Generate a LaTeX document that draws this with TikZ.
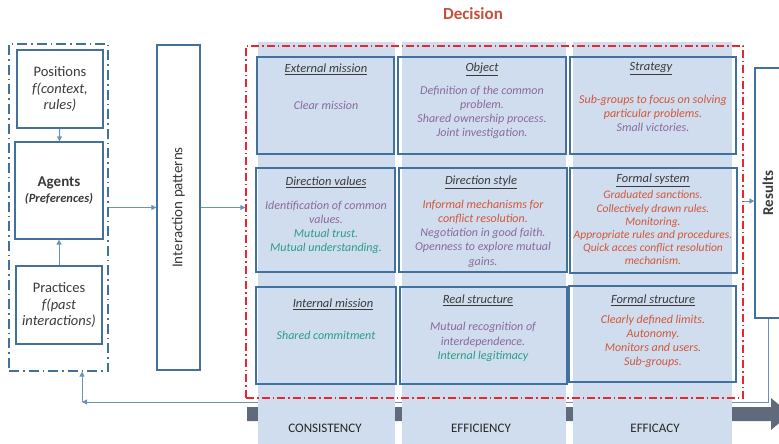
\documentclass[tikz,border=0pt]{standalone}
\usepackage{fontspec}
\setmainfont{Carlito}
\usetikzlibrary{arrows.meta}
\definecolor{bl}{HTML}{41719C}
\definecolor{bl2}{HTML}{6A93BA}
\definecolor{bgc}{HTML}{CFDDEE}
\definecolor{pur}{HTML}{8A6A9C}
\definecolor{tea}{HTML}{2E9C86}
\definecolor{ora}{HTML}{D2573A}
\definecolor{red1}{HTML}{E8282C}
\definecolor{gry}{HTML}{5F6A7D}
\definecolor{dec}{HTML}{C4503A}
\definecolor{ttl}{HTML}{3A3A3A}
\begin{document}
\begin{tikzpicture}[x=1pt,y=-1pt,
  box/.style={draw=bl, line width=1.3pt, inner sep=0pt, align=center, text=ttl},
  conn/.style={draw=bl2, line width=1pt, -{Triangle[length=5pt,width=5pt]}},
  cell/.style={draw=bl, line width=1.2pt, inner sep=0pt},
  colbg/.style={fill=bgc},
  ttlf/.style={font=\fontsize{12.5}{15}\selectfont\itshape, text=ttl},
  body/.style={font=\fontsize{12}{14.2}\selectfont\itshape, align=center},
  lbl/.style={font=\fontsize{13}{15}\selectfont, text=black!85}
]
\useasboundingbox (0,0) rectangle (779,444);

% grey progress arrow
\fill[gry] (247,407) -- (771,407) -- (771,398) -- (790,414) -- (771,430) -- (771,421) -- (247,421) -- cycle;

% results box
\node[box, minimum width=26, minimum height=250] (results) at (768,193)
  {\rotatebox{90}{\fontsize{15}{17}\selectfont\bfseries Results}};

% left panel
\node[draw=bl, line width=1.2pt, dash pattern=on 10pt off 4pt on 1.5pt off 4pt,
      minimum width=99, minimum height=327, inner sep=0pt] (leftbox) at (58.5,207.5) {};
\node[box, minimum width=86, minimum height=78, font=\fontsize{14.5}{16.5}\selectfont] (positions) at (60,89)
  {Positions\\ \itshape f(context,\\ \itshape rules)};
\node[box, minimum width=88, minimum height=97, font=\fontsize{15}{16}\selectfont\bfseries] (agents) at (59,190.5)
  {Agents\\ \fontsize{12.5}{14}\selectfont\itshape (Preferences)};
\node[box, minimum width=86, minimum height=78, font=\fontsize{14.5}{16.5}\selectfont] (practices) at (59,305)
  {Practices\\ \itshape f(past\\ \itshape interactions)};
\draw[conn] (positions) -- (agents);
\draw[conn] (practices) -- (agents);

\node[box, minimum width=43, minimum height=325] (interaction) at (178.5,207.5)
  {\rotatebox{90}{\fontsize{15}{17}\selectfont Interaction patterns}};
\draw[conn] (leftbox.east) -- (interaction.west);

% return connector
\coordinate (retc) at (82,402);
\draw[conn] (results.south) |- (retc);
\draw[conn] (retc) -- (leftbox.south -| retc);

% column backgrounds
\fill[colbg] (258,42) rectangle (395,444);
\fill[colbg] (402,42) rectangle (566,444);
\fill[colbg] (573,42) rectangle (732,444);

% cells
\node[cell, minimum width=137, minimum height=97] (c11) at (325.5,105.5) {};
\node[cell, minimum width=168, minimum height=97] (c12) at (482,105.5) {};
\node[cell, minimum width=166, minimum height=97] (c13) at (653,105.5) {};
\node[cell, minimum width=139, minimum height=104] (c21) at (325.5,220) {};
\node[cell, minimum width=168, minimum height=104] (c22) at (483,220) {};
\node[cell, minimum width=167, minimum height=105] (c23) at (653.5,220.5) {};
\node[cell, minimum width=140, minimum height=97] (c31) at (326,335.5) {};
\node[cell, minimum width=167, minimum height=97] (c32) at (483.5,335.5) {};
\node[cell, minimum width=167, minimum height=96] (c33) at (652.5,334) {};

% decision frame
\node[draw=red1, line width=1.3pt, dash pattern=on 8pt off 3pt on 1.5pt off 3pt,
      minimum width=497, minimum height=352, inner sep=0pt] (decision) at (494.5,222) {};
\node[font=\fontsize{17}{20}\selectfont\bfseries, text=dec] (dtitle) at (473,14) {Decision};

\draw[conn] (interaction.east) -- (decision.west |- interaction.east);
\draw[conn] (decision.east |- 0,201) -- (results.west |- 0,201);

% cell titles
\node[ttlf] (t11) at (326,69) {\underline{External mission}};
\node[ttlf] (t12) at (482,69) {\underline{Object}};
\node[ttlf] (t13) at (651,69) {\underline{Strategy}};
\node[ttlf] (t21) at (326,182) {\underline{Direction values}};
\node[ttlf] (t22) at (481,182) {\underline{Direction style}};
\node[ttlf] (t23) at (653,180) {\underline{Formal system}};
\node[ttlf] (t31) at (333,304) {\underline{Internal mission}};
\node[ttlf] (t32) at (478,300) {\underline{Real structure}};
\node[ttlf] (t33) at (653,300) {\underline{Formal structure}};

% cell bodies
\node[body] (b11) at (326,105) {\textcolor{pur}{Clear mission}};
\node[body] (b12) at (482,112.5) {\textcolor{pur}{Definition of the common}\\\textcolor{pur}{problem.}\\\textcolor{pur}{Shared ownership process.}\\\textcolor{pur}{Joint investigation.}};
\node[body] (b13) at (653,113.5) {\textcolor{ora}{Sub-groups to focus on solving}\\\textcolor{ora}{particular problems.}\\\textcolor{pur}{Small victories.}};
\node[body] (b21) at (326,227.5) {\textcolor{pur}{Identification of common}\\\textcolor{pur}{values.}\\\textcolor{tea}{Mutual trust.}\\\textcolor{tea}{Mutual understanding.}};
\node[body] (b22) at (483,233.5) {\textcolor{ora}{Informal mechanisms for}\\\textcolor{ora}{conflict resolution.}\\\textcolor{pur}{Negotiation in good faith.}\\\textcolor{pur}{Openness to explore mutual}\\\textcolor{pur}{gains.}};
\node[body, font=\fontsize{11.5}{13.2}\selectfont\itshape] (b23) at (653,228) {\textcolor{ora}{Graduated sanctions.}\\\textcolor{ora}{Collectively drawn rules.}\\\textcolor{ora}{Monitoring.}\\\textcolor{ora}{Appropriate rules and procedures.}\\\textcolor{ora}{Quick acces conflict resolution}\\\textcolor{ora}{mechanism.}};
\node[body] (b31) at (326,335) {\textcolor{tea}{Shared commitment}};
\node[body] (b32) at (483,342) {\textcolor{pur}{Mutual recognition of}\\\textcolor{pur}{interdependence.}\\\textcolor{tea}{Internal legitimacy}};
\node[body] (b33) at (653,341.5) {\textcolor{ora}{Clearly defined limits.}\\\textcolor{ora}{Autonomy.}\\\textcolor{ora}{Monitors and users.}\\\textcolor{ora}{Sub-groups.}};

% bottom labels
\node[lbl] (l1) at (325,428) {CONSISTENCY};
\node[lbl] (l2) at (481,428) {EFFICIENCY};
\node[lbl] (l3) at (655,428) {EFFICACY};
\end{tikzpicture}
\end{document}
